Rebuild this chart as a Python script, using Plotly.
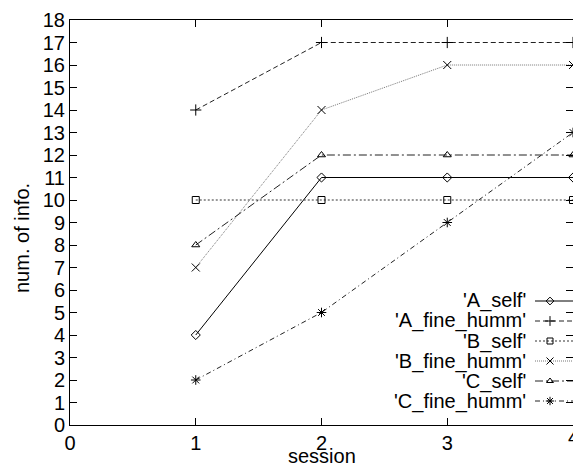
import plotly.graph_objects as go

sessions = [1, 2, 3, 4]
A_self = [4, 11, 11, 11]
A_fine_humm = [14, 17, 17, 17]
B_self = [10, 10, 10, 10]
B_fine_humm = [7, 14, 16, 16]
C_self = [8, 12, 12, 12]
C_fine_humm = [2, 5, 9, 13]

x_ticks = [0, 1, 2, 3, 4]
y_ticks = list(range(0, 19))

series_names = ["'A_self'", "'A_fine_humm'", "'B_self'", "'B_fine_humm'", "'C_self'", "'C_fine_humm'"]
series_values = [A_self, A_fine_humm, B_self, B_fine_humm, C_self, C_fine_humm]

styles = [
    dict(color="black", dash="solid", symbol="diamond-open", msize=7),
    dict(color="#222222", dash="5px,3px", symbol="cross-thin-open", msize=8),
    dict(color="#333333", dash="2px,2px", symbol="square-open", msize=7),
    dict(color="#777777", dash="1px,1px", symbol="x-thin-open", msize=8),
    dict(color="#222222", dash="8px,3px,2px,3px", symbol="triangle-up-open", msize=7),
    dict(color="#222222", dash="5px,3px,1px,3px", symbol="asterisk-open", msize=8),
]

FONT = "Liberation Sans, Arial, sans-serif"
FS = 20

# plot area spans image x 70..573, y 20..425 (page body margin removed)
W, H = 573, 466
L, T = 70, 20
pw, ph = 503, 405
R = W - L - pw
B = H - T - ph
X0, Y0 = L, T + ph  # image px of data origin


def px_x(img_x):
    return (img_x - X0) / pw


def px_y(img_y):
    return (Y0 - img_y) / ph


fig = go.Figure()
for name, vals, st in zip(series_names, series_values, styles):
    fig.add_trace(go.Scatter(
        x=sessions, y=vals, mode="lines+markers", name=name,
        line=dict(color=st["color"], width=1, dash=st["dash"]),
        marker=dict(symbol=st["symbol"], size=st["msize"], color="black",
                    line=dict(color="black", width=1)),
        showlegend=False, cliponaxis=False,
    ))

# manual gnuplot-style key (text right-aligned, sample to its right)
annotations = []
for i, (name, st) in enumerate(zip(series_names, styles)):
    yp = px_y(301 + 20 * i)
    annotations.append(dict(x=px_x(528), y=yp, xref="paper", yref="paper",
                            text=name, showarrow=False, xanchor="right", yanchor="middle",
                            font=dict(family=FONT, size=FS, color="black")))
    fig.add_trace(go.Scatter(
        x=[px_x(535), px_x(550), 1.0], y=[yp, yp, yp],
        xaxis="x2", yaxis="y2", mode="lines", showlegend=False, hoverinfo="skip",
        line=dict(color=st["color"], width=1, dash=st["dash"]),
    ))
    fig.add_trace(go.Scatter(
        x=[px_x(550)], y=[yp], xaxis="x2", yaxis="y2", mode="markers",
        showlegend=False, hoverinfo="skip",
        marker=dict(symbol=st["symbol"], size=st["msize"] - 1, color="black",
                    line=dict(color="black", width=1)),
    ))

annotations.append(dict(x=px_x(22), y=px_y(238), xref="paper", yref="paper",
                        text="num. of info.", showarrow=False, textangle=-90,
                        xanchor="center", yanchor="middle",
                        font=dict(family=FONT, size=FS, color="black")))
annotations.append(dict(x=2, y=px_y(456), xref="x", yref="paper",
                        text="session", showarrow=False,
                        xanchor="center", yanchor="middle",
                        font=dict(family=FONT, size=FS, color="black")))
# last x tick label sits on the page edge (half visible, as in the reference)
annotations.append(dict(x=x_ticks[-1], y=px_y(437), xref="x", yref="paper",
                        text=str(x_ticks[-1]), showarrow=False,
                        xanchor="center", yanchor="middle",
                        font=dict(family=FONT, size=FS, color="black")))

fig.update_layout(
    width=W, height=H,
    margin=dict(l=L, r=R, t=T, b=B, pad=0),
    paper_bgcolor="white", plot_bgcolor="white",
    font=dict(family=FONT, size=FS, color="black"),
    annotations=annotations,
    xaxis=dict(range=[0, 4], tickvals=x_ticks, ticktext=[str(v) for v in x_ticks[:-1]] + [""],
               ticks="inside", ticklen=7,
               tickcolor="black", showline=True, linecolor="black", linewidth=1,
               mirror="allticks", showgrid=False, zeroline=False,
               tickfont=dict(family=FONT, size=FS, color="black")),
    yaxis=dict(range=[0, 18], tickvals=y_ticks, ticks="inside", ticklen=7,
               tickcolor="black", showline=True, linecolor="black", linewidth=1,
               mirror="allticks", showgrid=False, zeroline=False,
               tickfont=dict(family=FONT, size=FS, color="black")),
    xaxis2=dict(range=[0, 1], overlaying="x", visible=False, fixedrange=True),
    yaxis2=dict(range=[0, 1], overlaying="y", visible=False, fixedrange=True),
)

fig.write_html("out.html", config={"displayModeBar": False},
               post_script="document.body.style.margin='0';")
